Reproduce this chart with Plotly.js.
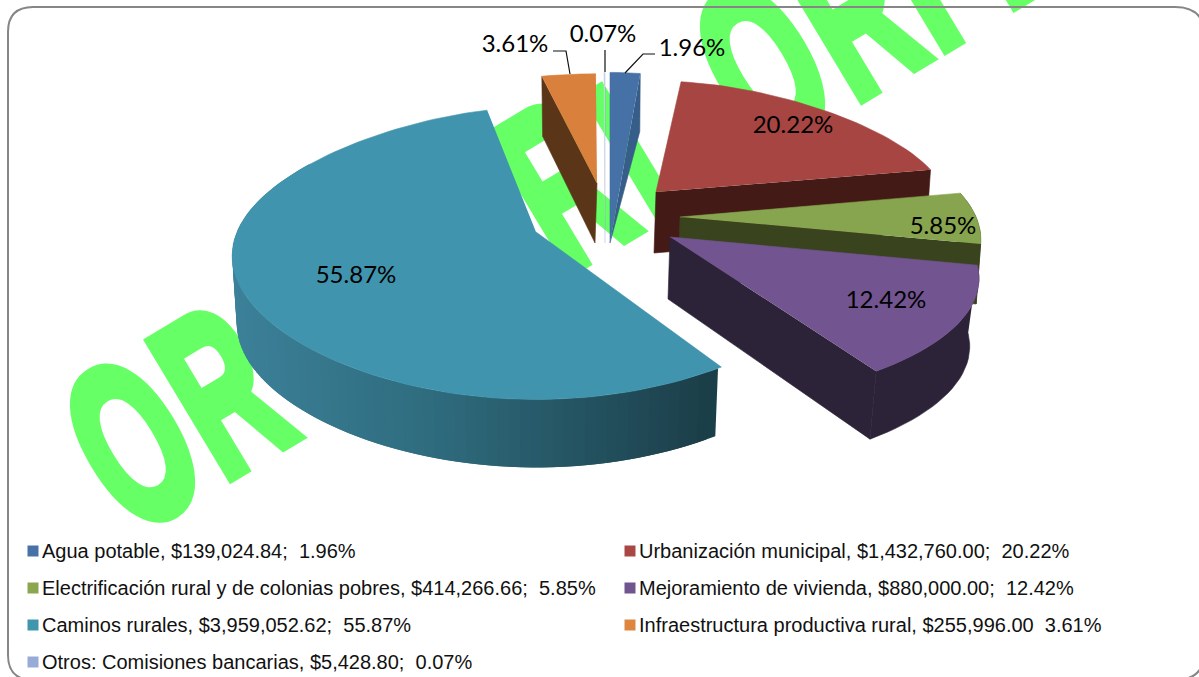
<!DOCTYPE html>
<html><head><meta charset="utf-8">
<script src="https://cdn.plot.ly/plotly-3.0.1.min.js"></script>
<style>html,body{margin:0;padding:0;background:#fff;overflow:hidden}#g{width:1199px;height:677px}</style>
</head><body><div id="g"></div>
<script>
// ---- chart data ----
const categories = ["Agua potable","Urbanización municipal","Electrificación rural y de colonias pobres","Mejoramiento de vivienda","Caminos rurales","Infraestructura productiva rural","Otros: Comisiones bancarias"];
const amounts = [139024.84,1432760.00,414266.66,880000.00,3959052.62,255996.00,5428.80];
const shares = [1.96,20.22,5.85,12.42,55.87,3.61,0.07];
const separators = [";  ",";  ",";  ",";  ",";  ","  ",";  "];
// ---- styles ----
const topColors  = ["#4571a6","#a64542","#87a44e","#725490","#4194ad","#d9803d","#c5d2e8"];
const wallColors = ["#375d89","#441a17","#39431d","#2c2338","#1c3f49","#5a3517","#5b6d8a"];
const legendColors = ["#4672a8","#a94744","#8aa750","#71558f","#4096ad","#dc863f","#97abd6"];
// ---- projected placement of each exploded slice (layout, not data) ----
const apexX = [610,656,680,670,536,597,605];
const apexY = [243,192,217,237,232,183,243];
const radX  = [350,290,296,293,299,338,350];
const radY  = [200,130,139,145,146,128,200];
const persp = [0.2,0.2,0.2,0.38,0.2,0.2,0.2];
const depth = [58,61,60,68,68,60,58];
const bottomScale = [0.985,0.985,0.985,0.97,0.985,0.985,0.985];
const apexDepth = [0,61,60,62,68,60,0];
const cutSide = ["end","end","end","end",null,"start","end"];
const outerWall = [false,false,true,true,true,false,false];
const edgeWidth = [0.6,0.6,0.6,0.6,0.6,0.6,0.25];
const drawOrder = [1,2,3,4,5,6,0];
const labelX = [692,793,943,886,356,515,603];
const labelY = [50,127,228,302,277,46,36];
const leaderX = [[625,643,655],[570,566,553],[605,605]];
const leaderY = [[73,54,54],[74,51,51],[72,50]];
const legendColX = [33,630];
const legendRowY = [551,588,625,662];
const legendTextGap = 9;
const wmLetters = ["O","R","R","I","O","R","I","I"];
const wmX = [132,222,562,634,762,852,911,980];
const wmY = [443,390,184,160,65,12,-23,-66];

const total = amounts.reduce((a,b)=>a+b,0);
const rad = d=>d*Math.PI/180;
let acc=0; const startA=[],endA=[];
amounts.forEach(v=>{startA.push(acc);acc+=v/total*360;endA.push(acc);});

function pt(i,deg,bottom){
  const X=Math.sin(rad(deg)),Y=Math.cos(rad(deg));
  const sx=1-persp[i]*Y-0.1*Y*Y, sy=1-0.147*Y;
  let dx=radX[i]*X*sx, dy=-radY[i]*Y*sy;
  if(bottom){dx*=bottomScale[i];dy+=depth[i];}
  return [apexX[i]+dx,apexY[i]+dy];
}
function arc(i,a,b,bottom){
  const n=Math.max(2,Math.ceil(Math.abs(b-a)/2)),o=[];
  for(let k=0;k<=n;k++)o.push(pt(i,a+(b-a)*k/n,bottom));
  return o;
}
function poly(pts,color,lw){
  return {type:"scatter",mode:"lines",x:pts.map(p=>p[0]),y:pts.map(p=>p[1]),fill:"toself",fillcolor:color,
    line:{color:color,width:lw},hoverinfo:"skip",showlegend:false};
}
function mix(a,b,t){return "rgb("+a.map((v,k)=>Math.round(v+(b[k]-v)*t)).join(",")+")";}
const traces=[];
drawOrder.forEach(i=>{
  const a=startA[i],b=endA[i];
  if(outerWall[i]){
    if(i===4){
      const lo=146.3, hi=300, steps=80; // visible front of the large slice, shaded by position
      const from=Math.max(a,lo);
      for(let s=steps-1;s>=0;s--){
        const p=from+(hi-from)*s/steps,q=from+(hi-from)*(s+2)/steps; // overlap neighbours to hide seams
        const qq=Math.min(q,hi);
        const seg=arc(i,p,qq,false).concat(arc(i,qq,p,true));
        const mx=pt(i,from+(hi-from)*(s+0.5)/steps,false)[0];
        const t=Math.min(1,Math.max(0,(mx-235)/485));
        const c=t<0.45?mix([60,129,153],[46,106,124],t/0.45):mix([46,106,124],[27,62,72],(t-0.45)/0.55);
        traces.push(poly(seg,c,0));
      }
    } else {
      traces.push(poly(arc(i,a,b,false).concat(arc(i,b,a,true)),wallColors[i],edgeWidth[i]));
    }
  }
  if(cutSide[i]){
    const ang=cutSide[i]==="end"?b:a;
    const A=[apexX[i],apexY[i]],top=pt(i,ang,false),bot=pt(i,ang,true);
    const Ab=[apexX[i]+(apexDepth[i]?-2:0),apexY[i]+apexDepth[i]];
    traces.push(poly([top,bot,Ab,A],wallColors[i],edgeWidth[i]));
  }
  traces.push(poly([[apexX[i],apexY[i]]].concat(arc(i,a,b,false)),topColors[i],edgeWidth[i]));
});
leaderX.forEach((lx,k)=>traces.push({type:"scatter",mode:"lines",x:lx,y:leaderY[k],line:{color:"#111",width:1.2},hoverinfo:"skip",showlegend:false}));
traces.push({type:"scatter",mode:"text",x:labelX,y:labelY,text:shares.map(s=>s.toFixed(2)+"%"),
  textfont:{family:"Lato, Carlito, sans-serif",size:24,color:"#000"},textposition:"middle center",hoverinfo:"skip",showlegend:false});
// legend drawn as markers + text, two columns
const money=v=>"$"+v.toLocaleString("en-US",{minimumFractionDigits:2,maximumFractionDigits:2});
const lgX=categories.map((c,i)=>legendColX[i%2]);
const lgY=categories.map((c,i)=>legendRowY[Math.floor(i/2)]);
traces.push({type:"scatter",mode:"markers",x:lgX,y:lgY,
  marker:{symbol:"square",size:11,color:legendColors,line:{width:0}},hoverinfo:"skip",showlegend:false});
traces.push({type:"scatter",mode:"text",x:lgX.map(v=>v+legendTextGap),y:lgY.map(v=>v+2),
  text:categories.map((c,i)=>c+", "+money(amounts[i])+separators[i].replace("  "," \u00A0")+shares[i].toFixed(2)+"%"),
  textposition:"middle right",textfont:{family:"Liberation Sans, Arial, sans-serif",size:20,color:"#111"},
  hoverinfo:"skip",showlegend:false});

const ax={range:[0,1199],domain:[0,1],visible:false,fixedrange:true};
const layout={width:1199,height:677,margin:{l:0,r:0,t:0,b:0},paper_bgcolor:"#fff",plot_bgcolor:"rgba(0,0,0,0)",showlegend:false,
  xaxis:Object.assign({},ax),yaxis:Object.assign({},ax,{range:[677,0]}),
  shapes:[{type:"path",xref:"x",yref:"y",layer:"above",line:{color:"#868686",width:2},
    path:"M 8 32 Q 8 7 33 7 L 1175 7 Q 1205 7 1205 37 L 1205 650 Q 1205 680 1175 680 L 33 680 Q 8 680 8 655 Z"}],
  annotations:wmLetters.map((t,i)=>({xref:"paper",yref:"paper",x:wmX[i]/1199,y:1-wmY[i]/677,text:t,showarrow:false,
    xanchor:"center",yanchor:"middle",textangle:-31,font:{family:"Liberation Sans, Arial, sans-serif",size:228,weight:700,color:"#66ff66"}}))};
Plotly.newPlot("g",traces,layout,{displayModeBar:false,staticPlot:true}).then(gd=>{
  // the watermark lies underneath the pie: compress the letters and move them below the traces
  const below=gd.querySelector(".layer-below");
  gd.querySelectorAll(".annotation").forEach(a=>{
    const t=a.querySelector("text");
    const b=t.getBBox(),cx=b.x+b.width/2,cy=b.y+b.height/2;
    t.setAttribute("transform","translate("+cx+","+cy+") scale(0.56,1) translate("+(-cx)+","+(-cy)+")");
    t.style.stroke="#66ff66";t.style.strokeWidth="12px";t.style.strokeLinejoin="miter";
    below.appendChild(a);
  });
});
</script></body></html>
